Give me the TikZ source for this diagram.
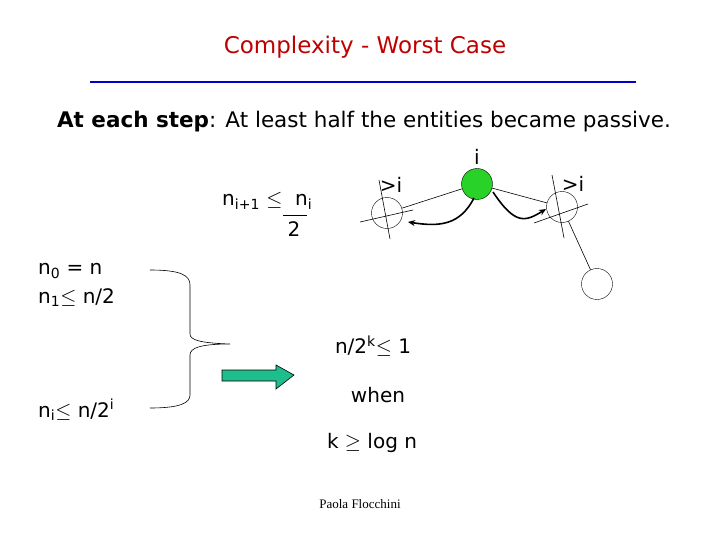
\documentclass[tikz,border=0pt]{standalone}
\usepackage{fontspec}
\setmainfont{DejaVu Sans}
\newfontfamily\timesf{Liberation Serif}
\usetikzlibrary{arrows.meta}
\definecolor{gr}{RGB}{40,210,40}
\definecolor{tl}{RGB}{30,190,140}
\begin{document}
\begin{tikzpicture}[x=1pt,y=-1pt,
  txt/.style={font=\fontsize{20}{22}\selectfont,inner sep=0},
  crc/.style={draw,circle,minimum size=31pt,inner sep=0},
  thin/.style={line width=0.6pt},
  bold/.style={line width=1.6pt,-{Stealth[length=7pt,width=6pt]}}]
\useasboundingbox (0,0) rectangle (720,540);
\node[txt,text=red!75!black,font=\fontsize{23}{26}\selectfont] (title) at (365,47) {Complexity - Worst Case};
\coordinate (b1) at (90,82); \coordinate (b2) at (636,82);
\draw[blue!80!black,line width=2.5pt] (b1) -- (b2);
\node[txt,font=\fontsize{21.5}{24}\selectfont] (head) at (364,122) {\textbf{At each step}: At least half the entities became passive.};
% graph
\node[crc,fill=gr,draw=black] (g) at (477,184) {};
\node[crc] (l) at (387,213) {};
\node[crc] (r) at (562,207) {};
\node[crc] (b) at (597,284) {};
\node[txt] (li) at (477,157) {i};
\node[txt] (ll) at (391,185) {>i};
\node[txt] (lr) at (573,184) {>i};
\draw[thin] (g) -- (l);
\draw[thin] (g) -- (r);
\draw[thin] (r) -- (b);
\coordinate (lc1) at (379,180); \coordinate (lc2) at (390,239);
\coordinate (lc3) at (360,222); \coordinate (lc4) at (413,210);
\draw[thin] (lc1) -- (lc2); \draw[thin] (lc3) -- (lc4);
\coordinate (rc1) at (552,175); \coordinate (rc2) at (564,238);
\coordinate (rc3) at (534,223); \coordinate (rc4) at (588,204);
\draw[thin] (rc1) -- (rc2); \draw[thin] (rc3) -- (rc4);
\coordinate (a1) at (474,198); \coordinate (a2) at (408,222);
\draw[bold] (a1) .. controls (460,225) and (440,227) .. (a2);
\coordinate (a3) at (493,192); \coordinate (a4) at (546,209);
\draw[bold] (a3) .. controls (515,225) and (525,222) .. (a4);
% formula
\node[txt,anchor=west] (f1) at (222,201) {n\textsubscript{i+1} $\leq$ \ n\textsubscript{i}};
\coordinate (fl1) at (283,215); \coordinate (fl2) at (307,215);
\draw[thin] (fl1) -- (fl2);
\node[txt] (f2) at (294,229) {2};
% left
\node[txt,anchor=west] (n0) at (38,271) {n\textsubscript{0} = n};
\node[txt,anchor=west] (n1) at (38,298) {n\textsubscript{1}$\leq$ n/2};
\node[txt,anchor=west] (ni) at (38,410) {n\textsubscript{i}$\leq$ n/2\textsuperscript{i}};
\coordinate (bt) at (150,270); \coordinate (bb) at (150,408); \coordinate (tip) at (230,344);
\draw[thin] (bt) .. controls (180,270) and (190,275) .. (190,285) -- (190,334)
  .. controls (190,340) and (200,343) .. (tip)
  .. controls (200,344) and (190,348) .. (190,355) -- (190,395)
  .. controls (190,403) and (180,408) .. (bb);
% arrow
\draw[fill=tl,draw=black,line width=0.6pt]
  (222,370) -- (276,370) -- (276,365) -- (294,375) -- (276,389) -- (276,381) -- (222,381) -- cycle;
\node[txt] (r1) at (373,346) {n/2\textsuperscript{k}$\leq$ 1};
\node[txt] (r2) at (378,395) {when};
\node[txt] (r3) at (372,443) {k $\geq$ log n};
\node[font=\timesf\fontsize{13}{15}\selectfont] (auth) at (360,504) {Paola Flocchini};
\end{tikzpicture}
\end{document}
